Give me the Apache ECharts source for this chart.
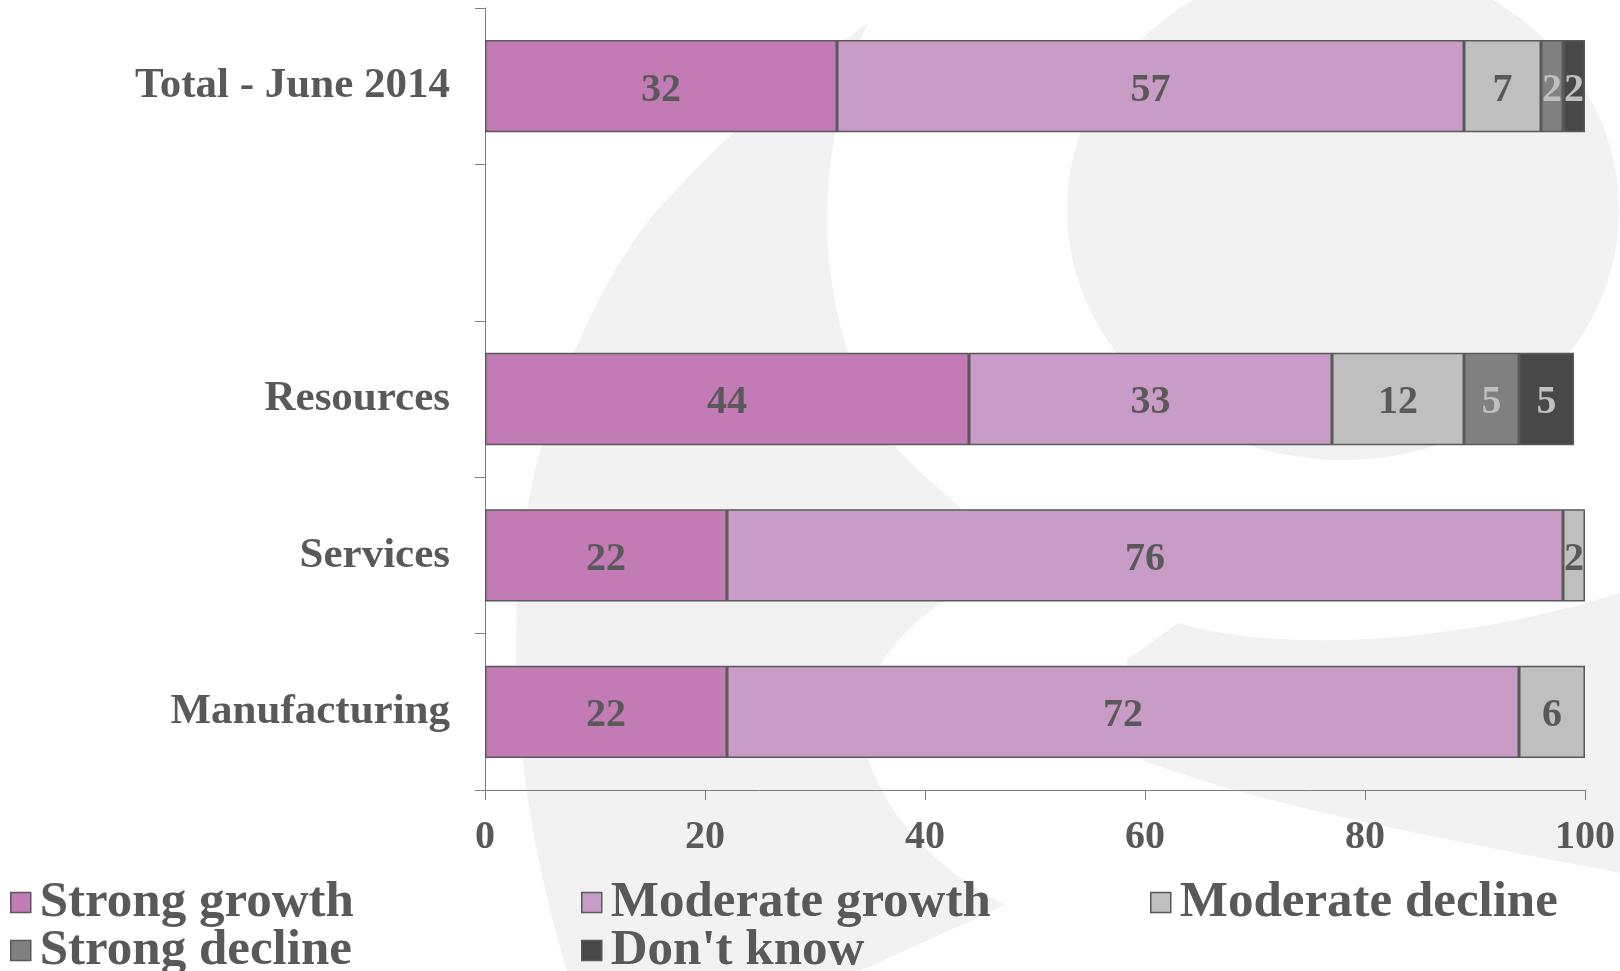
<!DOCTYPE html>
<html>
<head>
<meta charset="utf-8">
<title>Growth outlook by sector</title>
<script src="https://cdn.jsdelivr.net/npm/echarts@6/dist/echarts.min.js"></script>
<style>
  html, body { margin: 0; padding: 0; background: #ffffff; }
  #chart { width: 1620px; height: 971px; }
</style>
</head>
<body>
<div id="chart"></div>
<script>
// Categories (the blank entry leaves a gap below the total row)
const categories = ['Total - June 2014', '', 'Resources', 'Services', 'Manufacturing'];

// Share of respondents (%) per outlook
const strongGrowth    = [32, null, 44, 22, 22];
const moderateGrowth  = [57, null, 33, 76, 72];
const moderateDecline = [7,  null, 12, 2,  6];
const strongDecline   = [2,  null, 5,  null, null];
const dontKnow        = [2,  null, 5,  null, null];

const seriesNames = ['Strong growth', 'Moderate growth', 'Moderate decline', 'Strong decline', "Don't know"];
const seriesData  = [strongGrowth, moderateGrowth, moderateDecline, strongDecline, dontKnow];

// Value axis ticks
const xMin = 0, xMax = 100, xStep = 20;

const fillColors  = ['#c27bb5', '#c89cc6', '#c0bfbf', '#808080', '#484848'];
const labelColors = ['#595959', '#595959', '#595959', '#c0c0c0', '#c0c0c0'];
const FONT = "'Liberation Serif', 'Times New Roman', serif";
const TEXT = '#595959';
const WATERMARK = '#f2f2f2';

const chart = echarts.init(document.getElementById('chart'), null, { renderer: 'canvas' });

// ---- Soft background emblem (page pixels) ----
// Outlines as a start point followed by cubic ('C') and straight ('L') segments.
const emblemOutlines = [
  [[868, 23],
   ['C', 800, 70, 720, 140, 653, 215],
   ['C', 600, 280, 545, 400, 527, 510],
   ['C', 505, 640, 515, 800, 567, 971],
   ['L', 860, 971],
   ['L', 1005, 905],
   ['C', 945, 875, 870, 810, 862, 727],
   ['C', 858, 680, 900, 630, 945, 600],
   ['C', 985, 570, 990, 535, 963, 510],
   ['C', 940, 488, 915, 470, 897, 448],
   ['C', 860, 405, 830, 320, 827, 230],
   ['C', 826, 150, 845, 70, 868, 23]],
  [[1178, 623],
   ['C', 1260, 648, 1430, 652, 1620, 593],
   ['L', 1620, 873],
   ['C', 1460, 842, 1260, 806, 1142, 760],
   ['C', 1132, 720, 1126, 684, 1127, 660],
   ['L', 1178, 623]]
];
const emblemEllipse = { cx: 1343, cy: 210, rx: 276, ry: 250 };

function outlineToPoints(outline) {
  const pts = [outline[0].slice()];
  let [px, py] = outline[0];
  for (let k = 1; k < outline.length; k++) {
    const seg = outline[k];
    if (seg[0] === 'L') {
      px = seg[1]; py = seg[2];
      pts.push([px, py]);
    } else {
      const [, c1x, c1y, c2x, c2y, x, y] = seg;
      const n = 24;
      for (let s = 1; s <= n; s++) {
        const t = s / n, u = 1 - t;
        pts.push([
          u * u * u * px + 3 * u * u * t * c1x + 3 * u * t * t * c2x + t * t * t * x,
          u * u * u * py + 3 * u * u * t * c1y + 3 * u * t * t * c2y + t * t * t * y
        ]);
      }
      px = x; py = y;
    }
  }
  return pts;
}

const emblemGraphics = emblemOutlines.map(o => ({
  type: 'polygon',
  z: -100,
  silent: true,
  shape: { points: outlineToPoints(o) },
  style: { fill: WATERMARK }
})).concat([{
  type: 'ellipse',
  z: -100,
  silent: true,
  shape: emblemEllipse,
  style: { fill: WATERMARK }
}]);

const barSeries = seriesNames.map((name, i) => ({
  name: name,
  type: 'bar',
  stack: 'total',
  data: seriesData[i],
  barCategoryGap: '41%',
  itemStyle: { color: fillColors[i], borderColor: '#595959', borderWidth: 1.5 },
  label: {
    show: true,
    position: 'inside',
    offset: [0, 4],
    color: labelColors[i],
    fontFamily: FONT,
    fontWeight: 'bold',
    fontSize: 40,
    formatter: p => (p.value == null ? '' : String(p.value))
  },
  emphasis: { disabled: true },
  z: 5
}));

// Legend laid out as a three-column grid
const legendSlots = [
  { left: 10,   top: 877 },
  { left: 581,  top: 877 },
  { left: 1150, top: 877 },
  { left: 10,   top: 925 },
  { left: 581,  top: 925 }
];
const legends = seriesNames.map((name, i) => ({
  show: true,
  data: [name],
  left: legendSlots[i].left,
  top: legendSlots[i].top,
  icon: 'rect',
  itemWidth: 20,
  itemHeight: 20,
  itemGap: 0,
  padding: 0,
  selectedMode: false,
  textStyle: {
    fontFamily: FONT, fontWeight: 'bold', fontSize: 51, color: TEXT,
    lineHeight: 50, padding: [0, 0, 0, 4]
  },
  itemStyle: { borderColor: '#595959', borderWidth: 1.5 }
}));

const option = {
  backgroundColor: '#ffffff',
  animation: false,
  textStyle: { fontFamily: FONT },
  graphic: { elements: emblemGraphics },
  grid: { left: 485, right: 35, top: 8, bottom: 181, containLabel: false },
  legend: legends,
  xAxis: {
    type: 'value',
    min: xMin,
    max: xMax,
    interval: xStep,
    axisLine: { show: true, lineStyle: { color: '#7f7f7f', width: 1 } },
    axisTick: { show: true, length: 10, lineStyle: { color: '#7f7f7f' } },
    splitLine: { show: false },
    axisLabel: {
      margin: 28,
      color: TEXT,
      fontFamily: FONT,
      fontWeight: 'bold',
      fontSize: 40
    }
  },
  yAxis: {
    type: 'category',
    inverse: true,
    data: categories,
    axisLine: { show: true, lineStyle: { color: '#7f7f7f', width: 1 } },
    axisTick: { show: true, length: 10, lineStyle: { color: '#7f7f7f' } },
    axisLabel: {
      margin: 35,
      color: TEXT,
      fontFamily: FONT,
      fontWeight: 'bold',
      fontSize: 43
    }
  },
  series: barSeries
};

chart.setOption(option);
</script>
</body>
</html>
